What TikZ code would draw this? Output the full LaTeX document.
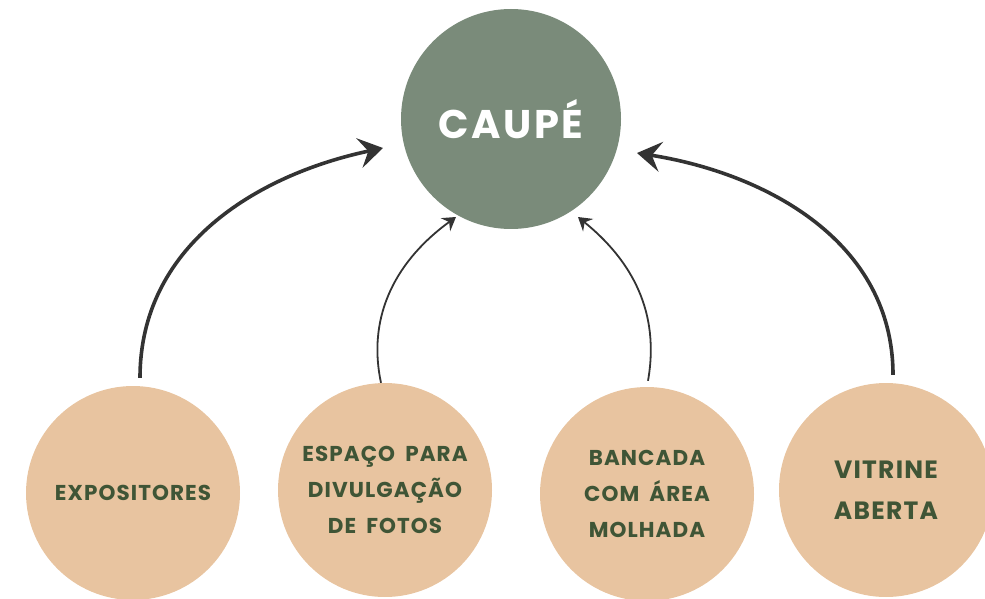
\documentclass[tikz,border=0pt]{standalone}
\usepackage{fontspec}
\usetikzlibrary{arrows.meta,calc}
\newfontfamily\titlefont[LetterSpace=6]{Poppins}
\newfontfamily\lblfont[LetterSpace=5,WordSpace=1.8]{Poppins}
\definecolor{sage}{HTML}{7A8B7A}
\definecolor{peach}{HTML}{E8C4A0}
\definecolor{darkgreen}{HTML}{3F5536}
\definecolor{arrowgray}{HTML}{333333}
\tikzset{
  bigcircle/.style={circle, fill=sage, minimum size=220pt, inner sep=0pt, text=white,
    font=\titlefont\bfseries\fontsize{40}{42}\selectfont},
  smallcircle/.style={circle, fill=peach, minimum size=214pt, inner sep=0pt, text=darkgreen,
    align=center, font=\lblfont\bfseries\fontsize{21.5}{36}\selectfont},
  largelabel/.style={font=\lblfont\bfseries\fontsize{25}{41}\selectfont},
  thickarrow/.style={draw=arrowgray, line width=3.6pt,
    -{Stealth[length=24pt,width=30pt,inset=9pt]}},
  thinarrow/.style={draw=arrowgray, line width=1.8pt,
    -{Stealth[length=13pt,width=16pt,inset=4.5pt]}}
}
\begin{document}
\begin{tikzpicture}[x=1pt,y=1pt]
\useasboundingbox (0,0) rectangle (985,598);
\node[bigcircle] (caupe) at (511,479) {CAUPÉ};
\node[smallcircle] (exp) at (133,105) {EXPOSITORES};
\node[smallcircle] (esp) at (385,108) {ESPAÇO PARA\\DIVULGAÇÃO\\DE FOTOS};
\node[smallcircle] (ban) at (647,104) {BANCADA\\COM ÁREA\\MOLHADA};
\node[smallcircle,largelabel] (vit) at (886,108) {VITRINE\\ABERTA};
\coordinate (e1) at ([xshift=7pt,yshift=8pt]exp.north);
\coordinate (e2) at ([xshift=-4pt,yshift=0pt]esp.north);
\coordinate (e3) at ([xshift=1pt,yshift=6pt]ban.north);
\coordinate (e4) at ([xshift=7pt,yshift=8pt]vit.north);
\coordinate (t1) at ($(caupe.center)+(-128,-29)$);
\coordinate (t2) at ($(caupe.center)+(-55,-98)$);
\coordinate (t3) at ($(caupe.center)+(67,-98)$);
\coordinate (t4) at ($(caupe.center)+(126,-34)$);
\draw[thickarrow] (e1) to[out=90,in=192] (t1);
\draw[thinarrow] (e2) to[out=102,in=216] (t2);
\draw[thinarrow] (e3) to[out=80,in=-39] (t3);
\draw[thickarrow] (e4) to[out=90,in=-9] (t4);
\end{tikzpicture}
\end{document}
